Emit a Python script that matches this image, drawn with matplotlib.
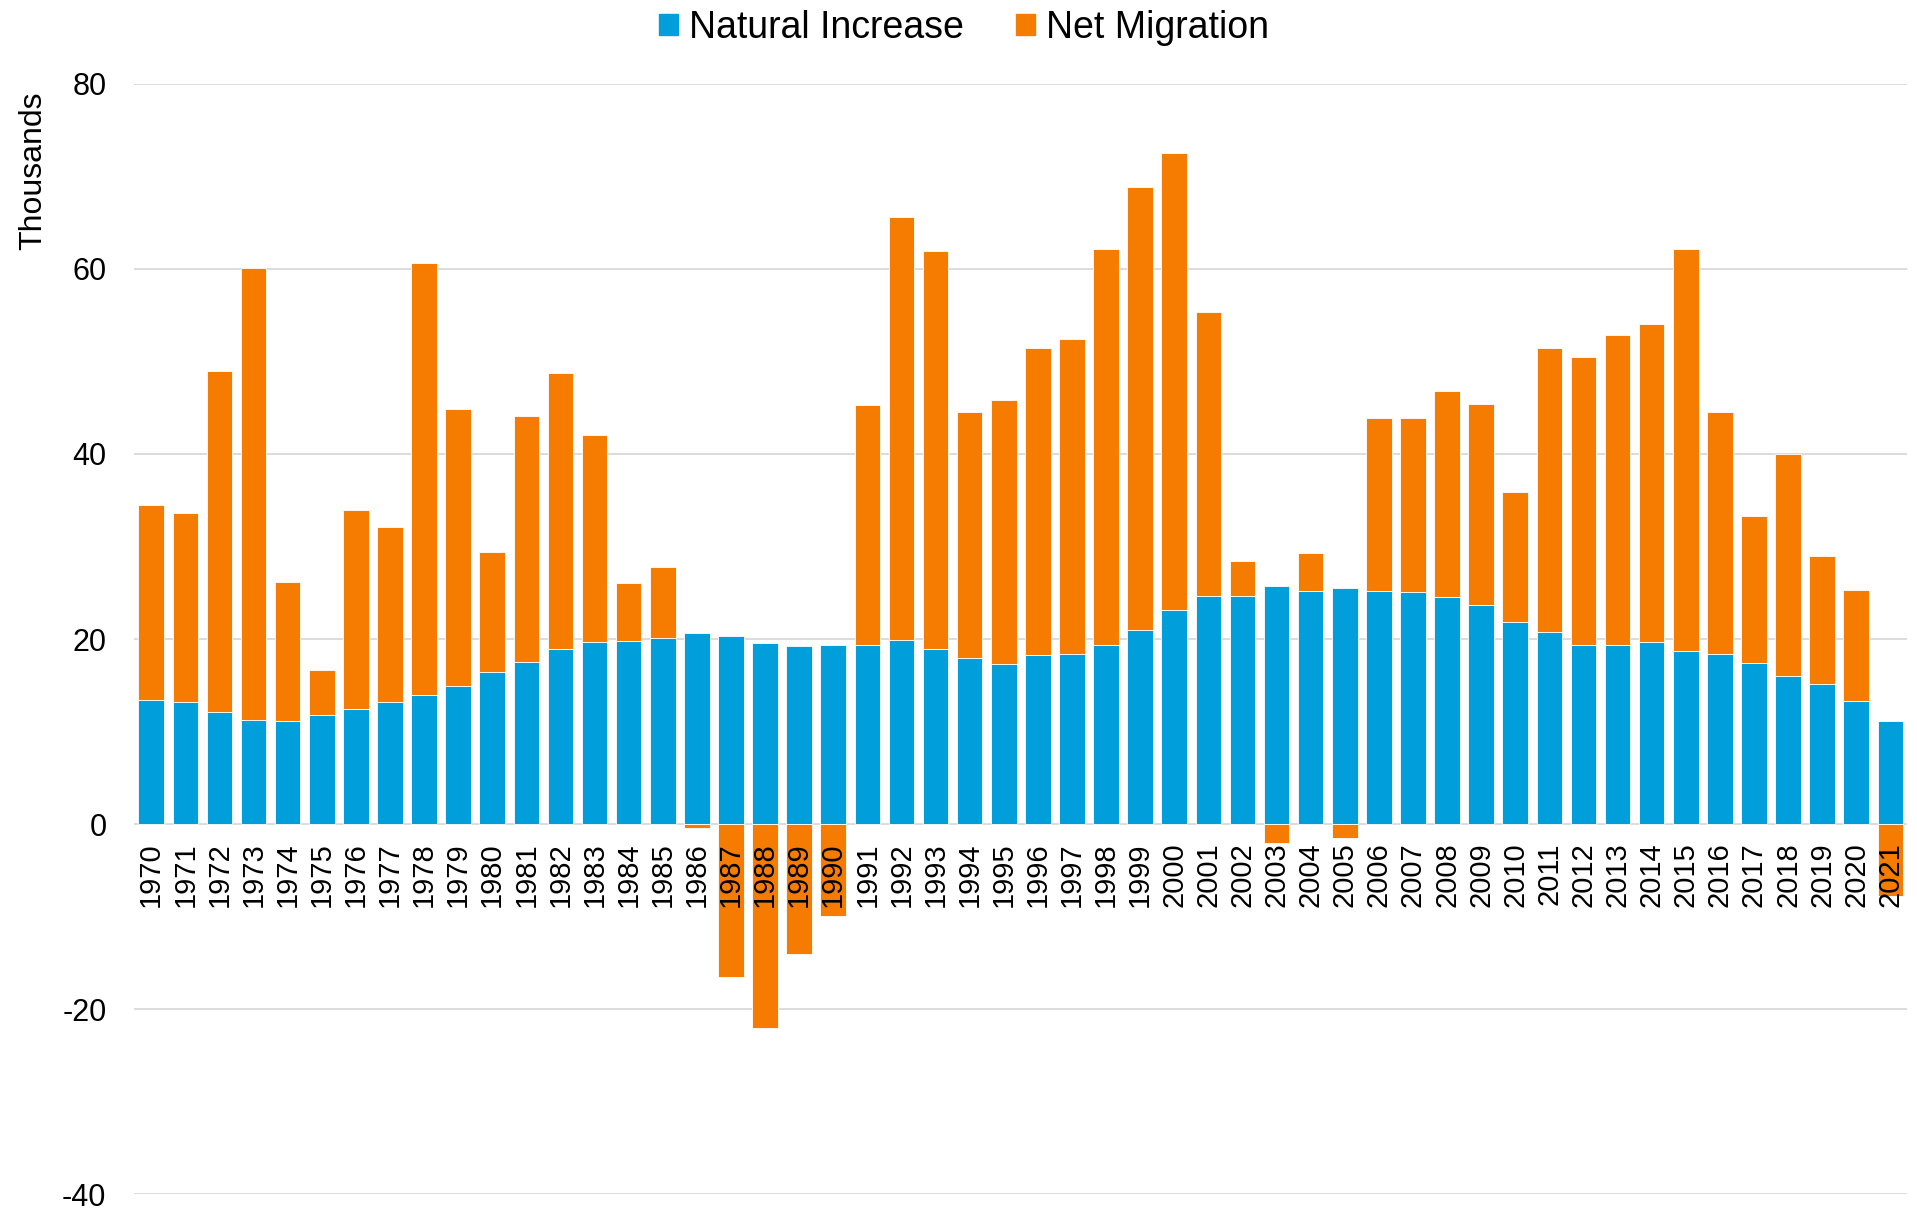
import matplotlib.pyplot as plt
import numpy as np
from matplotlib.patches import Patch

plt.rcParams['font.family'] = ['Liberation Sans', 'DejaVu Sans']

years = [str(y) for y in range(1970, 2022)]

natural = [13.4, 13.2, 12.1, 11.2, 11.1, 11.8, 12.4, 13.2, 14.0, 14.9,
           16.4, 17.5, 18.9, 19.7, 19.8, 20.1, 20.6, 20.3, 19.6, 19.2,
           19.3, 19.3, 19.9, 18.9, 18.0, 17.3, 18.3, 18.4, 19.3, 21.0,
           23.1, 24.6, 24.7, 25.7, 25.2, 25.5, 25.2, 25.1, 24.5, 23.7,
           21.8, 20.8, 19.3, 19.3, 19.7, 18.7, 18.4, 17.4, 16.0, 15.1,
           13.3, 11.1]

migration = [21.1, 20.4, 36.9, 48.9, 15.1, 4.8, 21.5, 18.9, 46.6, 30.0,
             13.0, 26.6, 29.9, 22.4, 6.3, 7.7, -0.4, -16.5, -22.0, -14.1,
             -9.9, 26.0, 45.7, 43.0, 26.5, 28.5, 33.2, 34.0, 42.9, 47.9,
             49.4, 30.7, 3.7, -2.0, 4.1, -1.5, 18.7, 18.8, 22.3, 21.7,
             14.1, 30.7, 31.2, 33.6, 34.4, 43.5, 26.1, 15.9, 24.0, 13.9,
             12.0, -7.8]

yticks = [-40, -20, 0, 20, 40, 60, 80]

blue = '#009EDB'
orange = '#F57C00'

fig = plt.figure(figsize=(19.17, 12.10), dpi=100)
ax = fig.add_axes([0.070, 0.0132, 0.925, 0.9174])

# category labels sit on the zero line, Excel style
ax.spines['bottom'].set_position(('data', 0))
for s in ax.spines.values():
    s.set_visible(False)

x = np.arange(len(years))
nat = np.array(natural)
mig = np.array(migration)
# stack positive migration on top of natural increase, negatives hang from 0
bottom = np.where(mig >= 0, nat, 0)

for v in yticks:
    ax.axhline(v, color='#D9D9D9', lw=1.3, zorder=0)

ax.bar(x, nat, width=0.75, color=blue, edgecolor='white', linewidth=0.6, zorder=1)
ax.bar(x, mig, width=0.75, bottom=bottom, color=orange, edgecolor='white',
       linewidth=0.6, zorder=1)

ax.set_xlim(-0.5, len(years) - 0.5)
ax.set_ylim(-40, 80)
ax.set_yticks(yticks)
ax.set_yticklabels([str(v) for v in yticks], fontsize=22)
ax.set_xticks(x)
ax.set_xticklabels(years, rotation=90, fontsize=21)

ax.tick_params(axis='x', length=0, pad=13)
ax.tick_params(axis='y', length=0, pad=20)

fig.text(33 / 1917, 1 - 171 / 1210, 'Thousands', rotation=90, ha='center',
         va='center', fontsize=23)

handles = [Patch(color=blue, label='Natural Increase'),
           Patch(color=orange, label='Net Migration')]
fig.legend(handles=handles, loc='center', bbox_to_anchor=(0.503, 0.977), ncol=2,
           frameon=False, fontsize=27, handlelength=0.5, handleheight=0.5,
           handletextpad=0.3, columnspacing=1.4)

fig.savefig('out.png', dpi=100)
